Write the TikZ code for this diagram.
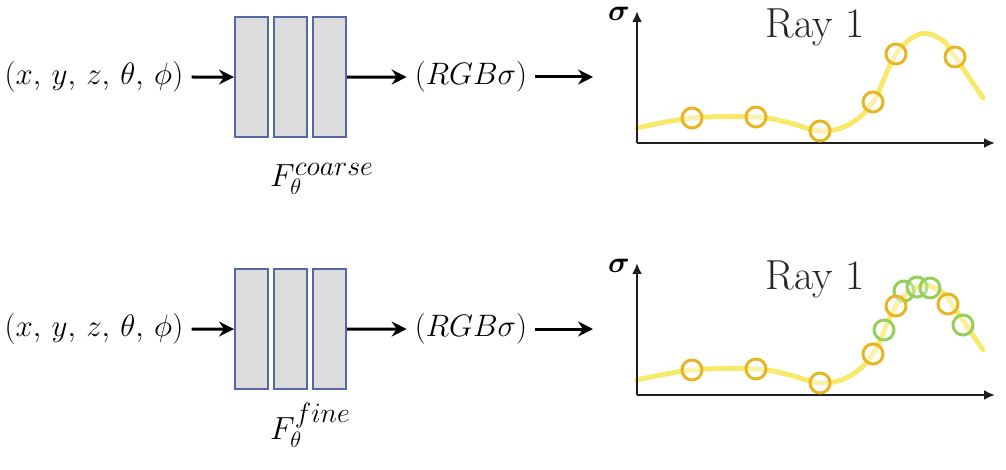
\documentclass[tikz,border=0pt]{standalone}
\usepackage{fix-cm}
\usepackage{amsmath}
\usepackage{fontspec}
\usetikzlibrary{arrows.meta}
\definecolor{boxgray}{HTML}{DCDCDC}
\definecolor{boxblue}{HTML}{5468A3}
\definecolor{curveyellow}{HTML}{F6E96B}
\definecolor{goldring}{HTML}{E8B624}
\definecolor{greenring}{HTML}{97CF5C}
\definecolor{axisgray}{HTML}{1E1E1E}
\definecolor{raygray}{HTML}{262626}
\tikzset{
  lbl/.style={inner xsep=8pt, inner ysep=0pt, font=\fontsize{31}{36}\selectfont},
  layer/.style={draw=boxblue, fill=boxgray, line width=2.2pt, minimum width=33pt, minimum height=120pt, inner sep=0pt, anchor=north west},
  flow/.style={line width=3pt, -{Stealth[length=15pt,width=15pt,inset=5pt]}},
  axisline/.style={line width=2.8pt, draw=axisgray, -{Latex[length=11pt,width=10pt]}},
  curveline/.style={line width=5pt, draw=curveyellow, line cap=round},
  ysamp/.style={circle, draw=goldring, line width=3pt, minimum size=20pt, inner sep=0pt, fill=white, fill opacity=0.45},
  gsamp/.style={circle, draw=greenring, line width=3pt, minimum size=20pt, inner sep=0pt, fill=white, fill opacity=0.3},
  flabel/.style={inner sep=0pt, anchor=base west, font=\fontsize{32}{34}\selectfont},
  raylabel/.style={inner sep=0pt, text=raygray, font=\fontsize{42}{46}\selectfont},
  siglabel/.style={inner sep=0pt, font=\fontsize{30}{32}\selectfont},
}
\newcommand{\raycurve}{plot[smooth, tension=0.6] coordinates {(637,128) (692,118) (756,117) (790,123) (820,131) (848,125) (873,102) (896,54) (920,34) (942,40) (955,57) (983,98)}}
\begin{document}
\begin{tikzpicture}[x=1pt, y=-1pt]
\useasboundingbox (0,0) rectangle (1006,470);

% ---------- top row (coarse) ----------
\node[lbl] (inA) at (94,77) {$(x,\,y,\,z,\,\theta,\,\phi)$};
\node[layer] (a1) at (234,16) {};
\node[layer] (a2) at (273,16) {};
\node[layer] (a3) at (312,16) {};
\node[flabel] (fA) at (270,187) {$F_{\theta}^{\hbox{\fontsize{28}{28}\selectfont$coarse$}}$};
\node[lbl] (rgbA) at (471,77) {$(RGB\sigma)$};
\coordinate (outA) at (593,77);
\draw[flow] (inA.east) -- (a1.west);
\draw[flow] (a3.east) -- (rgbA.west);
\draw[flow] (rgbA.east) -- (outA);

\coordinate (oA) at (637,143);
\coordinate (yA) at (637,11);
\coordinate (xA) at (995,143);
\draw[curveline] \raycurve;
\draw[axisline] (oA) -- (yA);
\draw[axisline] (oA) -- (xA);
\node[siglabel] (sA) at (619,14) {$\boldsymbol{\sigma}$};
\node[raylabel] (rA) at (815,27) {Ray 1};
\foreach \p [count=\i] in {(692,118),(756,117),(820,131),(873,102),(896,54),(955,57)}
  \node[ysamp] (ya\i) at \p {};

% ---------- bottom row (fine) ----------
\begin{scope}[shift={(0,252)}]
\node[lbl] (inB) at (94,77) {$(x,\,y,\,z,\,\theta,\,\phi)$};
\node[layer] (b1) at (234,16) {};
\node[layer] (b2) at (273,16) {};
\node[layer] (b3) at (312,16) {};
\node[flabel] (fB) at (270,187) {$F_{\theta}^{\hbox{\fontsize{28}{28}\selectfont$fine$}}$};
\node[lbl] (rgbB) at (471,77) {$(RGB\sigma)$};
\coordinate (outB) at (593,77);
\draw[flow] (inB.east) -- (b1.west);
\draw[flow] (b3.east) -- (rgbB.west);
\draw[flow] (rgbB.east) -- (outB);

\coordinate (oB) at (637,143);
\coordinate (yB) at (637,11);
\coordinate (xB) at (995,143);
\draw[curveline] \raycurve;
\draw[axisline] (oB) -- (yB);
\draw[axisline] (oB) -- (xB);
\node[siglabel] (sB) at (619,14) {$\boldsymbol{\sigma}$};
\node[raylabel] (rB) at (815,27) {Ray 1};
\foreach \p [count=\i] in {(884,78),(904,39),(917,35),(930,36),(963,73)}
  \node[gsamp] (gb\i) at \p {};
\foreach \p [count=\i] in {(692,118),(756,117),(820,131),(873,102),(896,54),(948,52)}
  \node[ysamp] (yb\i) at \p {};
\end{scope}
\end{tikzpicture}
\end{document}
